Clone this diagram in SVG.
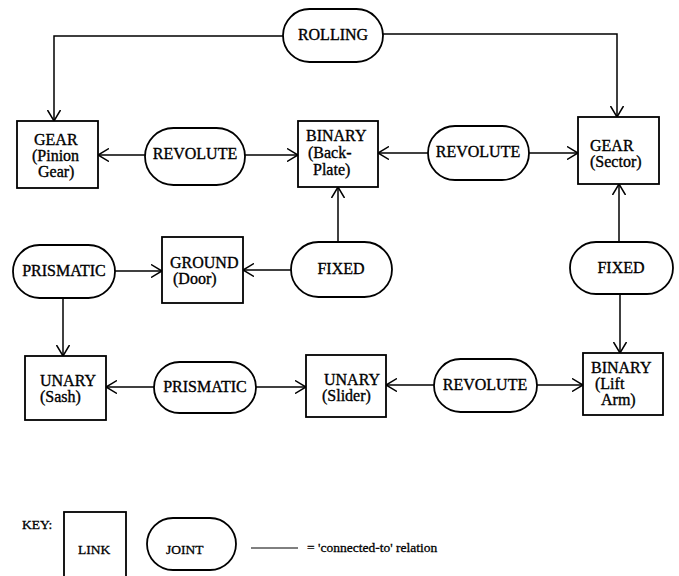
<svg xmlns="http://www.w3.org/2000/svg" width="679" height="576" viewBox="0 0 679 576">
<style>
.box{fill:#fff;stroke:#000;stroke-width:1.8}
.pill{fill:#fff;stroke:#000;stroke-width:1.8}
.t{font-family:"Liberation Serif","Times New Roman",serif;font-size:16px;fill:#000;stroke:#000;stroke-width:0.35}
.c{text-anchor:middle}
.k{font-family:"Liberation Serif","Times New Roman",serif;font-size:13.5px;fill:#000;stroke:#000;stroke-width:0.3}
.ln{fill:none;stroke:#000;stroke-width:1.5}
</style>
<defs>
<marker id="ar" viewBox="0 0 12 14" refX="11" refY="7" markerWidth="12" markerHeight="14" markerUnits="userSpaceOnUse" orient="auto">
<path d="M0,0.5 L11,7 L0,13.5" fill="none" stroke="#000" stroke-width="1.5"/>
</marker>
</defs>
<rect width="679" height="576" fill="#fff"/>
<g id="connectors">
<path class="ln" d="M283,36 H54 V121" marker-end="url(#ar)"/>
<path class="ln" d="M383,34 H617 V117" marker-end="url(#ar)"/>
<path class="ln" d="M145,155 H98" marker-end="url(#ar)"/>
<path class="ln" d="M245,155 H298" marker-end="url(#ar)"/>
<path class="ln" d="M428,153 H378" marker-end="url(#ar)"/>
<path class="ln" d="M529,153 H578" marker-end="url(#ar)"/>
<path class="ln" d="M619,242 V184" marker-end="url(#ar)"/>
<path class="ln" d="M620,294 V353" marker-end="url(#ar)"/>
<path class="ln" d="M338,242 V187" marker-end="url(#ar)"/>
<path class="ln" d="M291,270 H243" marker-end="url(#ar)"/>
<path class="ln" d="M115,271 H162" marker-end="url(#ar)"/>
<path class="ln" d="M63,298 V356" marker-end="url(#ar)"/>
<path class="ln" d="M154,387 H106" marker-end="url(#ar)"/>
<path class="ln" d="M256,387 H306" marker-end="url(#ar)"/>
<path class="ln" d="M434,385 H386" marker-end="url(#ar)"/>
<path class="ln" d="M537,385 H583" marker-end="url(#ar)"/>
</g>
<g id="rolling">
<rect class="pill" x="283" y="9" width="100" height="53" rx="26.5"/>
<text class="t c" x="333" y="40">ROLLING</text>
</g>
<g id="gear-pinion">
<rect class="box" x="17" y="121" width="81" height="67"/>
<text class="t" x="34" y="145">GEAR</text>
<text class="t" x="32" y="161">(Pinion</text>
<text class="t" x="38" y="177">Gear)</text>
</g>
<g id="revolute-1">
<rect class="pill" x="145" y="128" width="100" height="57" rx="28.5"/>
<text class="t c" x="195" y="159">REVOLUTE</text>
</g>
<g id="binary-backplate">
<rect class="box" x="298" y="121" width="80" height="66"/>
<text class="t" x="306" y="141">BINARY</text>
<text class="t" x="308" y="158">(Back-</text>
<text class="t" x="313" y="175">Plate)</text>
</g>
<g id="revolute-2">
<rect class="pill" x="428" y="126" width="101" height="54" rx="27"/>
<text class="t c" x="478" y="157">REVOLUTE</text>
</g>
<g id="gear-sector">
<rect class="box" x="578" y="117" width="81" height="67"/>
<text class="t" x="590" y="151">GEAR</text>
<text class="t" x="590" y="167">(Sector)</text>
</g>
<g id="prismatic-1">
<rect class="pill" x="13" y="245" width="102" height="53" rx="26.5"/>
<text class="t c" x="64" y="276">PRISMATIC</text>
</g>
<g id="ground-door">
<rect class="box" x="162" y="237" width="81" height="66"/>
<text class="t" x="170" y="268">GROUND</text>
<text class="t" x="173" y="284">(Door)</text>
</g>
<g id="fixed-1">
<rect class="pill" x="291" y="242" width="101" height="55" rx="27.5"/>
<text class="t c" x="341" y="274">FIXED</text>
</g>
<g id="fixed-2">
<rect class="pill" x="570" y="242" width="103" height="52" rx="26"/>
<text class="t c" x="621" y="273">FIXED</text>
</g>
<g id="unary-sash">
<rect class="box" x="25" y="356" width="81" height="64"/>
<text class="t" x="40" y="386">UNARY</text>
<text class="t" x="40" y="402">(Sash)</text>
</g>
<g id="prismatic-2">
<rect class="pill" x="154" y="362" width="102" height="51" rx="25.5"/>
<text class="t c" x="205" y="392">PRISMATIC</text>
</g>
<g id="unary-slider">
<rect class="box" x="306" y="355" width="80" height="62"/>
<text class="t" x="324" y="385">UNARY</text>
<text class="t" x="322" y="401">(Slider)</text>
</g>
<g id="revolute-3">
<rect class="pill" x="434" y="359" width="103" height="53" rx="26.5"/>
<text class="t c" x="485" y="390">REVOLUTE</text>
</g>
<g id="binary-liftarm">
<rect class="box" x="583" y="353" width="80" height="62"/>
<text class="t" x="591" y="373">BINARY</text>
<text class="t" x="595" y="389">(Lift</text>
<text class="t" x="601" y="405">Arm)</text>
</g>
<g id="key">
<text class="k" x="22" y="529">KEY:</text>
<rect class="box" x="64" y="512" width="62" height="80"/>
<text class="k" x="78" y="554">LINK</text>
<rect class="pill" x="147" y="518" width="89" height="52" rx="26"/>
<text class="k" x="166" y="554">JOINT</text>
<line x1="251" y1="548" x2="298" y2="548" stroke="#000" stroke-width="1"/>
<text class="k" x="307" y="552">= 'connected-to' relation</text>
</g>
</svg>
